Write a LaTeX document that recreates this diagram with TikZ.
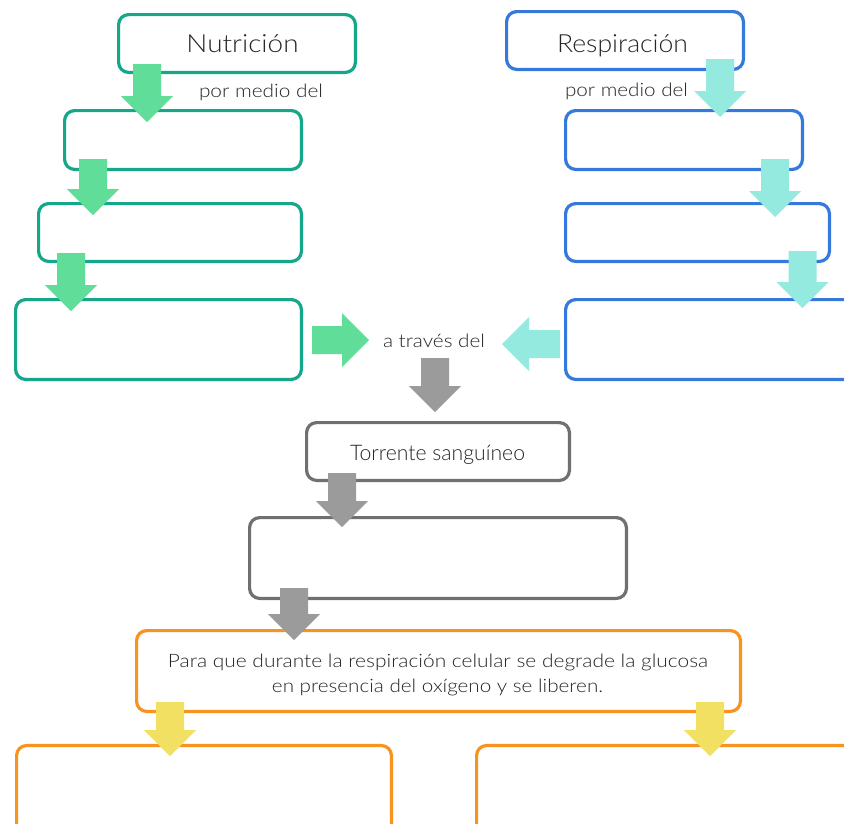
\documentclass[tikz,border=0pt]{standalone}
\usepackage{fontspec}
\setmainfont{Lato}[UprightFont={* Light}]
\usepackage{graphicx}
\definecolor{gline}{HTML}{16A78A}
\definecolor{garrow}{HTML}{5FDD99}
\definecolor{bline}{HTML}{3579DC}
\definecolor{barrow}{HTML}{94EADF}
\definecolor{grline}{HTML}{707070}
\definecolor{grarrow}{HTML}{9B9B9B}
\definecolor{oline}{HTML}{F7931E}
\definecolor{yarrow}{HTML}{F2E063}
\definecolor{txt}{HTML}{262626}
% block arrow pointing down: colour, centre x, top y, tip y
\newcommand{\blkdown}[4]{%
  \fill[#1] ({#2-14},#3) -- ({#2+14},#3) -- ({#2+14},{#4-26}) -- ({#2+26},{#4-26})
    -- (#2,#4) -- ({#2-26},{#4-26}) -- ({#2-14},{#4-26}) -- cycle;}
\begin{document}
\begin{tikzpicture}[x=1pt,y=-1pt,
  box/.style={draw, line width=3.2pt, rounded corners=10pt, inner sep=0pt, outer sep=0pt},
  gbox/.style={box, draw=gline},
  bbox/.style={box, draw=bline},
  grbox/.style={box, draw=grline},
  obox/.style={box, draw=oline},
  lbl/.style={text=txt, inner sep=0pt, outer sep=0pt, anchor=base}]
\clip (0,0) rectangle (844,823);
\fill[white] (0,0) rectangle (844,823);
% green column
\node[gbox, minimum width=236.8pt, minimum height=57.8pt] (nut) at (237,43.5) {};
\node[gbox, minimum width=236.8pt, minimum height=58.8pt] (g2) at (183,140) {};
\node[gbox, minimum width=262.8pt, minimum height=57.8pt] (g3) at (170,232.5) {};
\node[gbox, minimum width=285.8pt, minimum height=79.8pt] (g4) at (158.5,339.5) {};
% blue column
\node[bbox, minimum width=236.8pt, minimum height=57.8pt] (resp) at (625,40.5) {};
\node[bbox, minimum width=236.8pt, minimum height=58.8pt] (b2) at (684,140) {};
\node[bbox, minimum width=263.8pt, minimum height=57.8pt] (b3) at (697.5,232.5) {};
\node[bbox, minimum width=302.8pt, minimum height=79.8pt] (b4) at (717,339.5) {};
% gray
\node[grbox, minimum width=262.8pt, minimum height=57.8pt] (torr) at (438,451.5) {};
\node[grbox, minimum width=376.8pt, minimum height=80.8pt] (gr2) at (438,558) {};
% orange
\node[obox, minimum width=603.8pt, minimum height=80.8pt] (para) at (438.5,671) {};
\node[obox, minimum width=374.8pt, minimum height=93pt] (o1) at (204,792) {};
\node[obox, minimum width=391.8pt, minimum height=93pt] (o2) at (672.5,792) {};
% arrows
\blkdown{garrow}{147}{64}{122}
\blkdown{garrow}{93}{159}{215}
\blkdown{garrow}{71}{253}{311}
\blkdown{barrow}{720}{59}{117}
\blkdown{barrow}{775}{159}{217}
\blkdown{barrow}{802.5}{251}{308}
\blkdown{grarrow}{435}{358}{412}
\blkdown{grarrow}{342}{473}{527}
\blkdown{grarrow}{294}{588}{640}
\blkdown{yarrow}{170}{702}{756}
\blkdown{yarrow}{710}{702}{756}
\fill[garrow] (312,326) -- (342,326) -- (342,313) -- (369,340) -- (342,367) -- (342,354) -- (312,354) -- cycle;
\fill[barrow] (560,330) -- (529,330) -- (529,317) -- (502,344) -- (529,371) -- (529,358) -- (560,358) -- cycle;
% texts
\node[lbl, font=\fontsize{25}{30}\selectfont] (tnut) at (242.5,52) {\resizebox{112pt}{\height}{Nutrición}};
\node[lbl, font=\fontsize{25}{30}\selectfont] (tresp) at (622.5,52) {\resizebox{131pt}{\height}{Respiración}};
\node[lbl, font=\fontsize{18.5}{22}\selectfont] (pm1) at (261,97) {\resizebox{124pt}{\height}{por medio del}};
\node[lbl, font=\fontsize{18.5}{22}\selectfont] (pm2) at (626.5,96) {\resizebox{123pt}{\height}{por medio del}};
\node[lbl, font=\fontsize{18.5}{22}\selectfont] (atr) at (434,347) {\resizebox{102pt}{\height}{a través del}};
\node[lbl, font=\fontsize{21.5}{25}\selectfont] (ttorr) at (437.5,460) {\resizebox{175pt}{\height}{Torrente sanguíneo}};
\node[lbl, font=\fontsize{18.5}{24}\selectfont] (p1) at (438,667) {\resizebox{540pt}{\height}{Para que durante la respiración celular se degrade la glucosa}};
\node[lbl, font=\fontsize{18.5}{24}\selectfont] (p2) at (437.5,692) {\resizebox{331pt}{\height}{en presencia del oxígeno y se liberen.}};
\end{tikzpicture}
\end{document}
